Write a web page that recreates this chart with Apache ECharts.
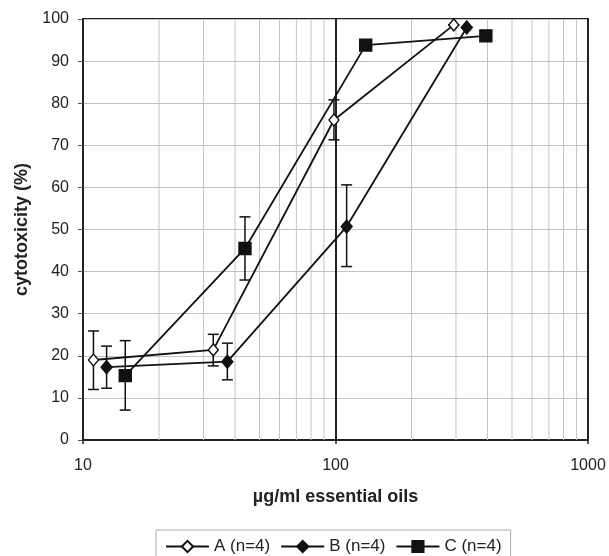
<!DOCTYPE html>
<html>
<head>
<meta charset="utf-8">
<script src="https://cdn.jsdelivr.net/npm/echarts@6/dist/echarts.min.js"></script>
<style>
  html, body { margin: 0; padding: 0; background: #fff; }
  #chart { width: 609px; height: 556px; }
</style>
</head>
<body>
<div id="chart"></div>
<script>
// concentration (µg/ml) and cytotoxicity (%) with error bar ends
const seriesNames = ['A (n=4)', 'B (n=4)', 'C (n=4)']
const doseA = [11.0, 32.8, 98.6, 294]
const meanA = [19.0, 21.4, 76.0, 98.6]
const lowA = [12.0, 17.6, 71.3, 98.6]
const highA = [25.9, 25.1, 80.8, 98.6]

const doseB = [12.4, 37.3, 110.7, 331]
const meanB = [17.3, 18.6, 50.7, 98.0]
const lowB = [12.3, 14.3, 41.2, 98.0]
const highB = [22.3, 23.0, 60.6, 98.0]

const doseC = [14.7, 43.8, 131.7, 394]
const meanC = [15.3, 45.5, 93.8, 96.0]
const lowC = [7.1, 38.0, 93.8, 96.0]
const highC = [23.6, 53.0, 93.8, 96.0]

const minorTicks = [20, 30, 40, 50, 60, 70, 80, 90, 200, 300, 400, 500, 600, 700, 800, 900]

const font = 'Liberation Sans, Arial, sans-serif'
const chart = echarts.init(document.getElementById('chart'))

function points (xs, ys) {
  return xs.map((x, i) => [x, ys[i]])
}

function errorData (xs, lo, hi) {
  return xs.map((x, i) => [x, lo[i], hi[i]])
}

function renderError (params, api) {
  const top = api.coord([api.value(0), api.value(2)])
  const bottom = api.coord([api.value(0), api.value(1)])
  const half = 5.5
  const style = { stroke: '#111', lineWidth: 1.5 }
  return {
    type: 'group',
    children: [
      { type: 'line', shape: { x1: top[0], y1: top[1], x2: bottom[0], y2: bottom[1] }, style },
      { type: 'line', shape: { x1: top[0] - half, y1: top[1], x2: top[0] + half, y2: top[1] }, style },
      { type: 'line', shape: { x1: bottom[0] - half, y1: bottom[1], x2: bottom[0] + half, y2: bottom[1] }, style }
    ]
  }
}

function renderMinor (params, api) {
  const a = api.coord([api.value(0), 0])
  const b = api.coord([api.value(0), 100])
  return {
    type: 'line',
    shape: { x1: a[0], y1: a[1], x2: b[0], y2: b[1] },
    style: { stroke: '#c4c4c4', lineWidth: 1 }
  }
}

function errorSeries (name, xs, lo, hi) {
  return {
    name: name,
    type: 'custom',
    renderItem: renderError,
    data: errorData(xs, lo, hi),
    encode: { x: 0, y: [1, 2] },
    silent: true,
    z: 3
  }
}

function lineSeries (name, xs, ys, symbol, size, fill) {
  return {
    name: name,
    type: 'line',
    data: points(xs, ys),
    symbol: symbol,
    symbolSize: size,
    showAllSymbol: true,
    lineStyle: { color: '#111', width: 1.8 },
    itemStyle: { color: fill, borderColor: '#111', borderWidth: 1.4 },
    z: 5
  }
}

const option = {
  animation: false,
  backgroundColor: '#fff',
  textStyle: { fontFamily: font },
  grid: {
    left: 83,
    right: 21,
    top: 19,
    bottom: 116,
    show: true,
    borderColor: '#222',
    borderWidth: 2
  },
  legend: {
    data: seriesNames,
    top: 530,
    left: 156,
    itemWidth: 43,
    itemHeight: 14,
    itemGap: 10,
    padding: [8, 9],
    borderColor: '#aaa',
    borderWidth: 1,
    textStyle: { fontFamily: font, fontSize: 17, color: '#222' }
  },
  xAxis: {
    type: 'log',
    logBase: 10,
    min: 10,
    max: 1000,
    name: 'µg/ml essential oils',
    nameLocation: 'middle',
    nameGap: 48,
    nameTextStyle: { fontFamily: font, fontSize: 18, fontWeight: 'bold', color: '#222' },
    axisLine: { lineStyle: { color: '#222', width: 2 } },
    axisTick: { show: true, inside: false, length: 4, lineStyle: { color: '#222', width: 1.5 } },
    axisLabel: { fontFamily: font, fontSize: 16, color: '#222', margin: 18, formatter: v => String(v) },
    splitLine: { show: true, lineStyle: { color: '#222', width: 2 } }
  },
  yAxis: {
    type: 'value',
    min: 0,
    max: 100,
    interval: 10,
    name: 'cytotoxicity (%)',
    nameLocation: 'middle',
    nameGap: 51,
    nameTextStyle: { fontFamily: font, fontSize: 18, fontWeight: 'bold', color: '#222' },
    axisLine: { show: true, lineStyle: { color: '#222', width: 2 } },
    axisTick: { show: true, inside: false, length: 5, lineStyle: { color: '#555', width: 1 } },
    axisLabel: { fontFamily: font, fontSize: 16, color: '#222', margin: 14 },
    splitLine: { show: true, lineStyle: { color: '#c4c4c4', width: 1 } }
  },
  series: [
    {
      name: 'minor',
      type: 'custom',
      renderItem: renderMinor,
      data: minorTicks.map(v => [v]),
      encode: { x: 0 },
      silent: true,
      z: 1
    },
    errorSeries('errA', doseA, lowA, highA),
    errorSeries('errB', doseB, lowB, highB),
    errorSeries('errC', doseC, lowC, highC),
    lineSeries(seriesNames[0], doseA, meanA, 'diamond', [10, 12], '#fff'),
    lineSeries(seriesNames[1], doseB, meanB, 'diamond', [11, 13], '#111'),
    lineSeries(seriesNames[2], doseC, meanC, 'rect', 12, '#111')
  ]
}

chart.setOption(option)
</script>
</body>
</html>
